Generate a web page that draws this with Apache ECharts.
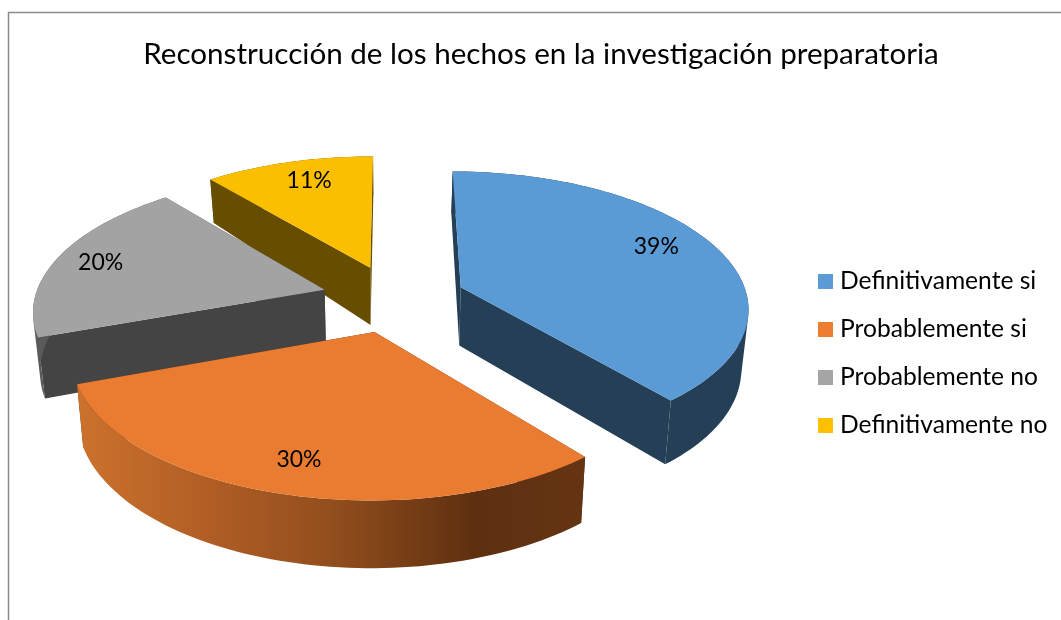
<!DOCTYPE html>
<html>
<head>
<meta charset="utf-8">
<style>html,body{margin:0;padding:0;background:#fff}#c{width:1061px;height:620px}</style>
<script src="https://cdn.jsdelivr.net/npm/echarts@6/dist/echarts.min.js"></script>
</head>
<body>
<div id="c"></div>
<script>
const chartTitle = 'Reconstrucción de los hechos en la investigación preparatoria';
const categories = ['Definitivamente si', 'Probablemente si', 'Probablemente no', 'Definitivamente no'];
const percentages = [39, 30.4, 19.6, 11];
const legendColors = ['#5B9BD5', '#ED7D31', '#A5A5A5', '#FFC000'];
const topColors = ['#5A9AD5', '#EA7C31', '#A3A3A3', '#FBBF00'];
const sideColors = ['#243F56', '#5F3010', '#444444', '#674D00'];
const wallColors = ['#243F56', null, '#5A5A5A', '#674D00'];
const drawOrder = [3, 2, 0, 1];          // painter's order: back slices first
const labelRadius = [0.80, 0.816, 0.835, 0.80];
const labelAngleShift = [-4.2, 0.2, -0.7, 1.7];

// Perspective model of the exploded 3D pie
const cx = 394, cy = 298.4, scaleXRight = 287, scaleXLeft = 290, scaleY = 134.7, persp = 0.139, explode = 0.25;
const vanishX = 387, shrink = 0.98;
const total = percentages.reduce((a, b) => a + b, 0);
const rad = d => d * Math.PI / 180;

function project(X, Y) {
  const s = 1 / (1 + persp * Y);
  return [cx + (X < 0 ? scaleXLeft : scaleXRight) * X * s, cy - scaleY * Y * s];
}
function projectBottom(X, Y) {
  const p = project(X, Y);
  const dy = 59 - 7 * Y - (Y > 0.3 ? (Y - 0.3) * 12 : 0);
  return [vanishX + (p[0] - vanishX) * shrink, p[1] + dy];
}
function arcWorld(a0, a1, ox, oy) {
  const pts = [], n = Math.ceil((a1 - a0) / 1.5);
  for (let i = 0; i <= n; i++) {
    const a = rad(a0 + (a1 - a0) * i / n);
    pts.push([ox + Math.sin(a), oy + Math.cos(a)]);
  }
  return pts;
}
const orangeWall = new echarts.graphic.LinearGradient(0, 0, 1, 0, [
  { offset: 0, color: '#CB722D' },
  { offset: 0.25, color: '#B25E25' },
  { offset: 0.5, color: '#924E1D' },
  { offset: 0.78, color: '#5F3010' },
  { offset: 1, color: '#643413' }
]);

// The curved wall is one path made of same-wound quads, so it has no seams
echarts.graphic.registerShape('pieWall', echarts.graphic.extendShape({
  shape: { top: [], bottom: [] },
  buildPath: function (ctx, shape) {
    const t = shape.top, b = shape.bottom;
    for (let i = 0; i + 1 < t.length; i++) {
      const q = [t[i], t[i + 1], b[i + 1], b[i]];
      let area = 0;
      for (let j = 0; j < 4; j++) {
        const n = q[(j + 1) % 4];
        area += q[j][0] * n[1] - n[0] * q[j][1];
      }
      if (area < 0) q.reverse();
      ctx.moveTo(q[0][0], q[0][1]);
      ctx.lineTo(q[1][0], q[1][1]);
      ctx.lineTo(q[2][0], q[2][1]);
      ctx.lineTo(q[3][0], q[3][1]);
      ctx.closePath();
    }
  }
}));

function makeRender(idx) {
  return function (params, api) {
    const value = api.value(0);
    let before = 0;
    for (let i = 0; i < idx; i++) before += percentages[i];
    const a0 = before / total * 360, a1 = a0 + value / total * 360, mid = (a0 + a1) / 2;
    const ox = explode * Math.sin(rad(mid)), oy = explode * Math.cos(rad(mid));
    const arc = arcWorld(a0, a1, ox, oy);
    const apexTop = project(ox, oy), apexBot = projectBottom(ox, oy);
    const topArc = arc.map(p => project(p[0], p[1]));
    const botArc = arc.map(p => projectBottom(p[0], p[1]));
    const side = sideColors[idx];
    const last = arc.length - 1;
    const children = [
      { type: 'polygon', shape: { points: [apexTop, topArc[0], botArc[0], apexBot] }, style: { fill: side } },
      { type: 'polygon', shape: { points: [apexTop, topArc[last], botArc[last], apexBot] }, style: { fill: side } },
      { type: 'pieWall', shape: { top: topArc, bottom: botArc }, style: { fill: wallColors[idx] || orangeWall } },
      { type: 'polygon', shape: { points: [apexTop].concat(topArc) }, style: { fill: topColors[idx] } }
    ];
    const la = rad(mid + labelAngleShift[idx]), lr = labelRadius[idx];
    const lp = project(ox + lr * Math.sin(la), oy + lr * Math.cos(la));
    children.push({
      type: 'text',
      style: {
        x: lp[0], y: lp[1], text: Math.round(value) + '%', fill: '#000',
        font: '23px Lato', textAlign: 'center', textVerticalAlign: 'middle'
      }
    });
    return { type: 'group', children };
  };
}

const series = drawOrder.map(function (i) {
  return {
    type: 'custom',
    name: categories[i],
    coordinateSystem: 'none',
    renderItem: makeRender(i),
    itemStyle: { color: legendColors[i] },
    data: [[percentages[i]]],
    z: 2,
    silent: true
  };
});

const chart = echarts.init(document.getElementById('c'), null, { renderer: 'canvas' });
chart.setOption({
  animation: false,
  backgroundColor: '#fff',
  title: {
    text: chartTitle, left: 536, top: 34, textAlign: 'center',
    textStyle: { fontFamily: 'Lato', fontSize: 29.6, fontWeight: 'normal', color: '#000' }
  },
  legend: {
    orient: 'vertical', left: 813, top: 264, itemWidth: 15, itemHeight: 15, itemGap: 23,
    icon: 'rect', data: categories,
    textStyle: { fontFamily: 'Lato', fontSize: 24.6, lineHeight: 23, color: '#000', padding: [0, 0, 0, 2] },
    selectedMode: false
  },
  graphic: [{
    type: 'polyline', silent: true,
    shape: { points: [[8.5, 620], [8.5, 12.5], [1061, 12.5]] },
    style: { stroke: '#8C8C8C', lineWidth: 1.5, fill: null }
  }],
  series
});
</script>
</body>
</html>
